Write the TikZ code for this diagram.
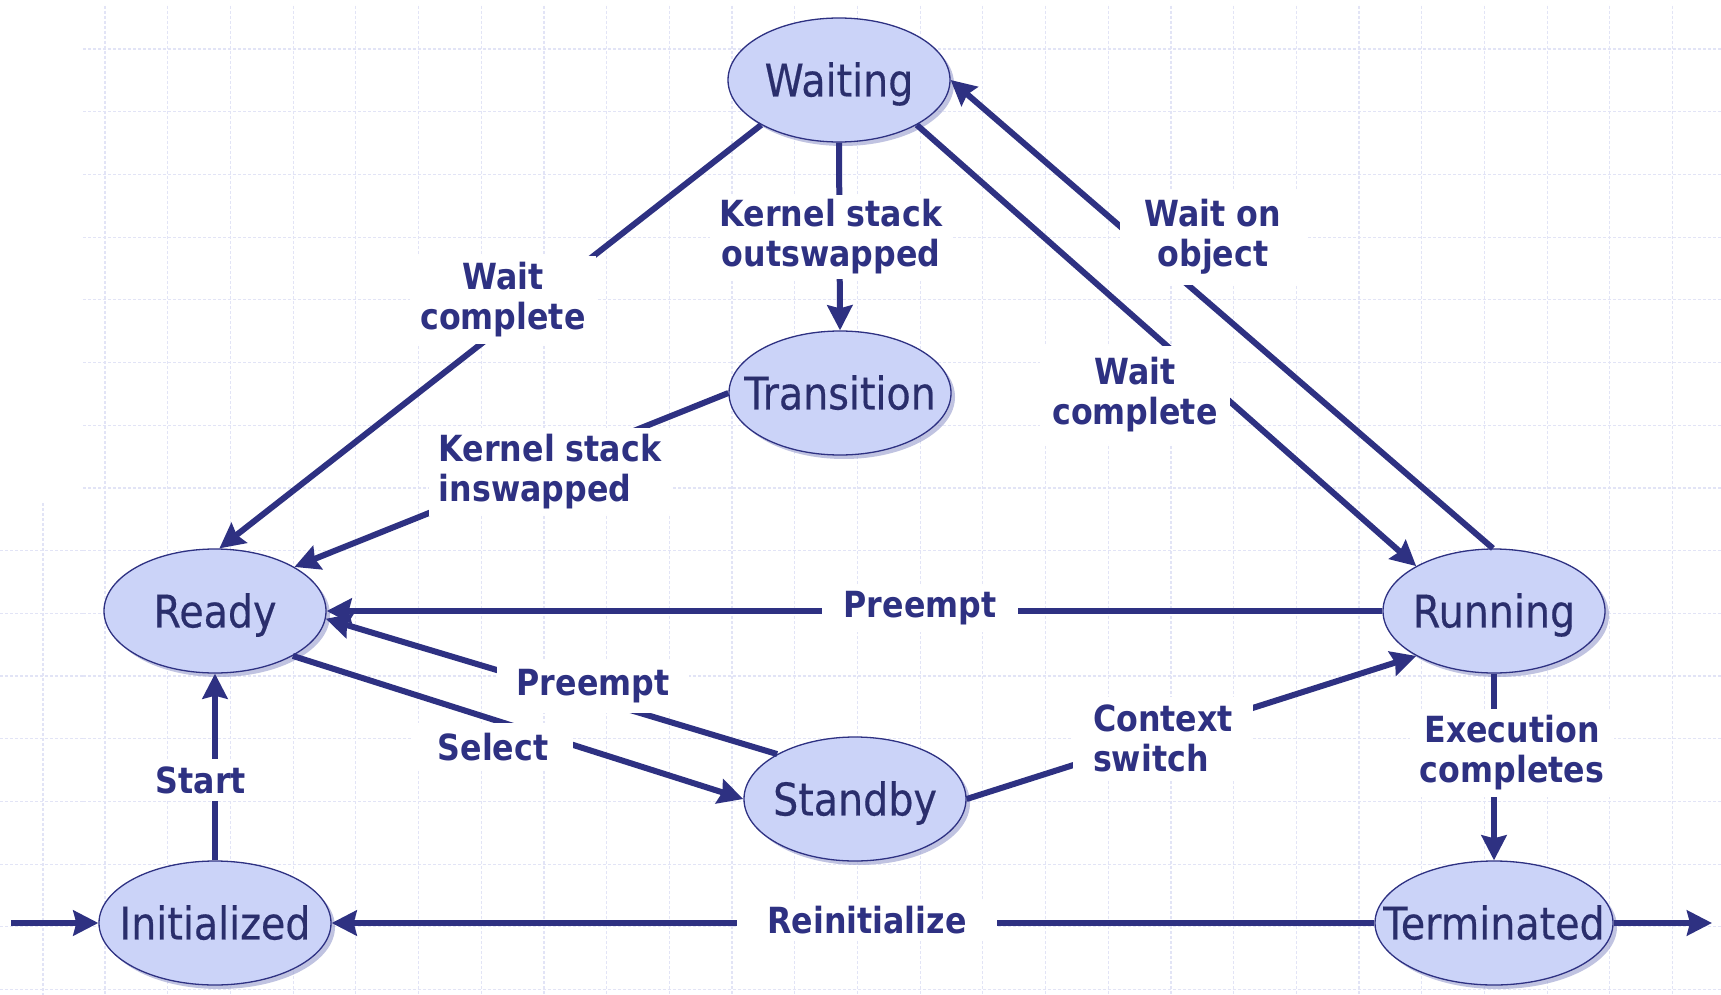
\documentclass[tikz,border=0pt]{standalone}
\usepackage{fontspec}
\setmainfont[FakeStretch=0.88]{DejaVu Sans}
\newfontfamily\statefont[FakeStretch=0.88,FakeBold=0.4]{DejaVu Sans}
\usetikzlibrary{arrows.meta,shadows,shapes.geometric}
\definecolor{navy}{RGB}{46,49,130}
\definecolor{navytext}{RGB}{42,46,108}
\definecolor{stfill}{RGB}{203,211,248}
\definecolor{stshadow}{RGB}{150,155,205}
\definecolor{gridc}{RGB}{226,228,246}
\newcommand\stt[1]{\raisebox{-0.365em}[0pt][0pt]{\makebox[0pt]{#1}}}
\begin{document}
\begin{tikzpicture}[x=1pt,y=-1pt,
  state/.style={ellipse, draw=navy, line width=1.3pt, fill=stfill, text=navytext,
    inner sep=0pt, minimum width=222pt, minimum height=124pt,
    font=\statefont\fontsize{45}{50}\selectfont,
    drop shadow={shadow xshift=4pt, shadow yshift=-4pt, fill=stshadow, opacity=0.6}},
  conn/.style={draw=navy, line width=6pt, -{Stealth[length=25pt,width=25pt,inset=3pt]}},
  lbl/.style={fill=white, text=navy, font=\bfseries\fontsize{36}{40}\selectfont,
    align=center, inner xsep=10pt, inner ysep=7pt},
  gridline/.style={draw=gridc, line width=1.2pt, dash pattern=on 3pt off 2pt}]
\useasboundingbox (0,0) rectangle (1721,995);
\fill[white] (0,0) rectangle (1721,995);
% background grid
\foreach \i in {0,...,26} \draw[gridline] ({105+62.7*\i},6) -- ({105+62.7*\i},995);
\foreach \i in {0,...,15} \draw[gridline] (83,{49+62.7*\i}) -- (1721,{49+62.7*\i});
\draw[gridline] (43,503) -- (43,995);
\foreach \i in {8,...,15} \draw[gridline] (0,{49+62.7*\i}) -- (83,{49+62.7*\i});

% states
\node[state] (waiting) at (839,80) {\stt{Waiting}};
\node[state] (transition) at (840,393) {\stt{Transition}};
\node[state] (ready) at (215,611) {\stt{Ready}};
\node[state] (running) at (1494,611) {\stt{Running}};
\node[state] (standby) at (855,799) {\stt{Standby}};
\node[state, minimum width=232pt] (init) at (215,923) {\stt{Initialized}};
\node[state, minimum width=238pt] (term) at (1494,923) {\stt{Terminated}};
\coordinate (entry) at (11,923);
\coordinate (exit) at (1712,923);

% connectors
\draw[conn] (waiting.210) -- (ready.86);
\draw[conn] (waiting.south) -- (transition.north);
\draw[conn] (transition.west) -- (ready.29);
\draw[conn] (running.91) -- (waiting.east);
\draw[conn] (waiting.330) -- (running.150);
\draw[conn] (running.west) -- (ready.east);
\draw[conn] (standby.150) -- (ready.356);
\draw[conn] (ready.330) -- (standby.west);
\draw[conn] (standby.east) -- (running.210);
\draw[conn] (running.south) -- (term.north);
\draw[conn] (init.north) -- (ready.south);
\draw[conn] (term.west) -- (init.east);
\draw[conn] (entry) -- (init.west);
\draw[conn] (term.east) -- (exit);

% labels
\node[lbl] (l1) at (503,300) {Wait\\complete};
\node[lbl, inner ysep=5pt] (l2) at (831,237) {Kernel stack\\outswapped};
\node[lbl, align=left] (l3) at (550,472) {Kernel stack\\inswapped};
\node[lbl, inner xsep=25pt, inner ysep=10pt] (l4) at (1213,237) {Wait on\\object};
\node[lbl, inner xsep=12pt, inner ysep=12pt] (l5) at (1135,395) {Wait\\complete};
\node[lbl, inner xsep=22pt] (l6) at (920,608) {Preempt};
\node[lbl, inner xsep=20pt, inner ysep=10pt] (l7) at (593,686) {Preempt};
\node[lbl, inner xsep=25pt, inner ysep=10pt] (l8) at (493,747) {Select};
\node[lbl, align=left, inner xsep=20pt] (l9) at (1163,738) {Context\\switch};
\node[lbl] (l10) at (1512,753) {Execution\\completes};
\node[lbl] (l11) at (201,780) {Start};
\node[lbl, inner xsep=30pt] (l12) at (867,920) {Reinitialize};
\end{tikzpicture}
\end{document}
